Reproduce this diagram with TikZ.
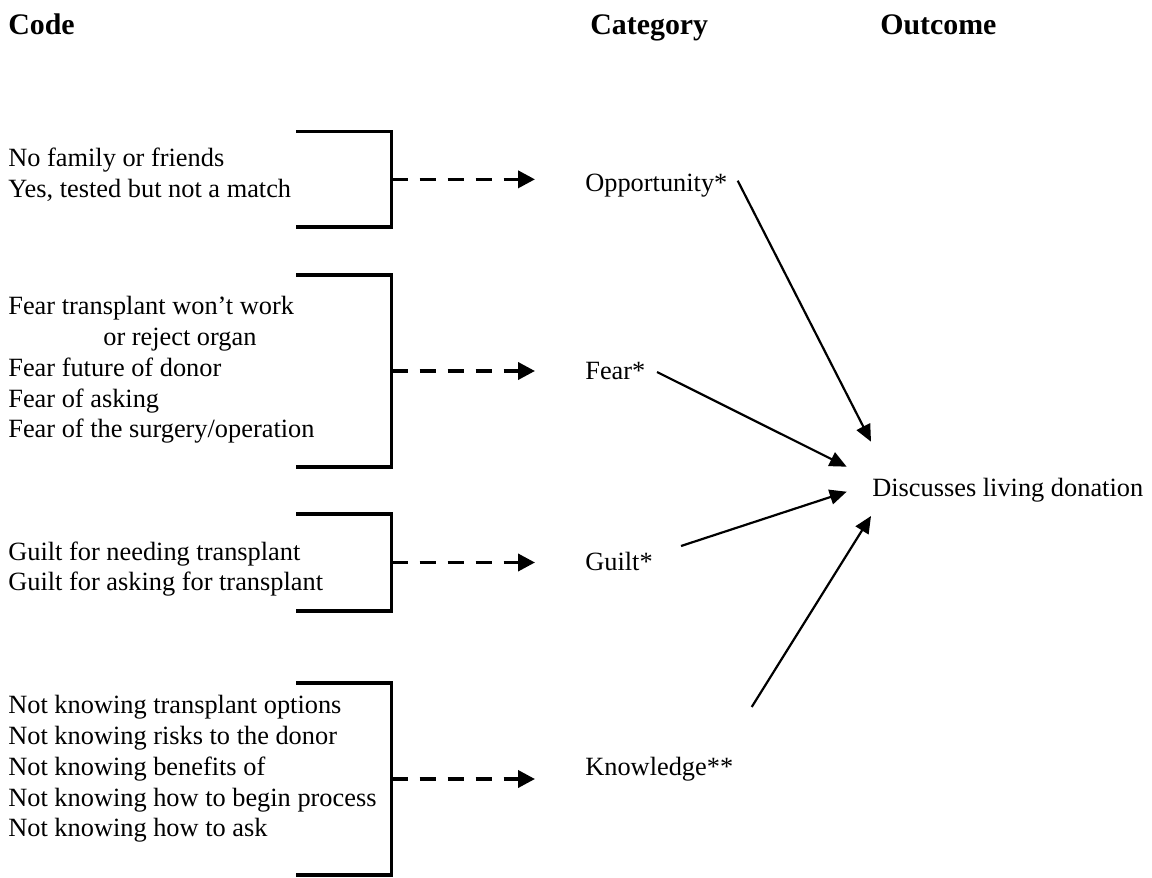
\documentclass[tikz,border=0pt]{standalone}
\usepackage{fontspec}
\setmainfont{Liberation Serif}
\usetikzlibrary{arrows.meta}
\begin{document}
\begin{tikzpicture}[x=0.02cm, y=-0.02cm,
  every node/.style={font=\fontsize{15}{17.5}\selectfont, inner sep=0pt, anchor=west},
  head/.style={font=\fontsize{17}{20}\selectfont\bfseries, anchor=base west},
  label/.style={anchor=base west},
  codes/.style={align=left},
  brace/.style={line width=1.9pt},
  dasharrow/.style={line width=2.1pt, dash pattern=on 0.33cm off 0.23cm,
    -{Triangle[length=0.34cm, width=0.34cm]}, shorten >=1cm},
  link/.style={line width=1.25pt, -{Triangle[length=0.34cm, width=0.3cm]}}]
  \useasboundingbox (0,0) rectangle (1152,878);
  % column heads
  \node[head] (code) at (8,35) {Code};
  \node[head] (cat) at (590,35) {Category};
  \node[head] (out) at (880,35) {Outcome};
  % codes, left column
  \node[codes] (k1) at (8,175) {No family or friends\\Yes, tested but not a match};
  \node[codes] (k2) at (8,370) {Fear transplant won't work\\\hspace*{1.9cm}or reject organ\\Fear future of donor\\Fear of asking\\Fear of the surgery/operation};
  \node[codes] (k3) at (8,569) {Guilt for needing transplant\\Guilt for asking for transplant};
  \node[codes] (k4) at (8,769) {Not knowing transplant options\\Not knowing risks to the donor\\Not knowing benefits of\\Not knowing how to begin process\\Not knowing how to ask};
  % categories and outcome
  \node[label] (c1) at (585,192) {Opportunity*};
  \node[label] (c2) at (585,379) {Fear*};
  \node[label] (c3) at (585,570) {Guilt*};
  \node[label] (c4) at (585,775) {Knowledge**};
  \node[label] (disc) at (872,496) {Discusses living donation};
  % brackets with dashed arrows
  \foreach \t/\b/\n in {131.7/227/1, 275/467/2, 514/611/3, 683/875/4} {
    \draw[brace] (296,\t) -- (391.7,\t) -- (391.7,\b) -- (296,\b);
    \coordinate (b\n) at (391.7,{(\t+\b)/2});
    \draw[dasharrow] (b\n) -- (b\n -| c\n.west);
  }
  % category to outcome
  \coordinate (s1) at (737.7,180.7);
  \coordinate (s2) at (657,372);
  \coordinate (s3) at (681,546);
  \coordinate (s4) at (751.7,707);
  \coordinate (t1) at (871,441.7);
  \coordinate (t2) at (846.7,466.7);
  \coordinate (t3) at (846.7,491.7);
  \coordinate (t4) at (871,516);
  \foreach \i in {1,...,4}
    \draw[link] (s\i) -- (t\i);
\end{tikzpicture}
\end{document}
